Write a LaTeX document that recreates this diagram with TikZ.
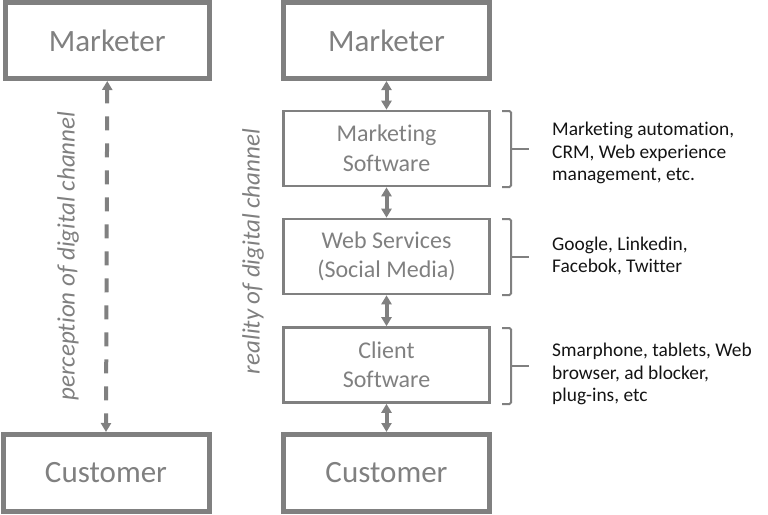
\documentclass[tikz,border=0pt]{standalone}
\usepackage{fontspec}
\setmainfont{Carlito}[Ligatures=NoCommon]
\usetikzlibrary{arrows.meta}
\definecolor{bordergray}{RGB}{128,128,128}
\definecolor{txtgray}{RGB}{128,128,128}
\definecolor{darktxt}{RGB}{20,20,20}
\begin{document}
\begin{tikzpicture}[x=1pt,y=-1pt,
  bigbox/.style={draw=bordergray, line width=5pt, inner sep=0pt, text=txtgray, font=\fontsize{31}{37}\selectfont},
  midbox/.style={draw=bordergray, line width=2.6pt, minimum width=206pt, minimum height=75pt, inner sep=0pt, text=txtgray, align=center, font=\fontsize{24}{29.5}\selectfont},
  dbl/.style={draw=bordergray, line width=4pt, {Triangle[width=10pt,length=9pt]}-{Triangle[width=10pt,length=9pt]}},
  dashedarrow/.style={draw=bordergray, line width=4pt, dash pattern=on 14pt off 13pt, {Triangle[width=10pt,length=9pt]}-{Triangle[width=10pt,length=9pt]}},
  brack/.style={draw=bordergray, line width=2pt, rounded corners=1.5pt},
  side/.style={anchor=west, text=darktxt, align=left, font=\fontsize{19.4}{22.5}\selectfont, inner sep=0pt},
  rot/.style={rotate=90, text=txtgray, font=\itshape\fontsize{25}{30}\selectfont, inner sep=0pt}]
\useasboundingbox (0,0) rectangle (768,514);
% left column
\node[bigbox, minimum width=204.5pt, minimum height=76pt] (mk1) at (107.25,40.5) {Marketer};
\node[bigbox, minimum width=206pt, minimum height=77pt] (cu1) at (106,473) {Customer};
\draw[dashedarrow] (mk1.south) -- (cu1.north);
\node[rot] (perc) at (68,256) {perception of digital channel};
% right column
\node[bigbox, minimum width=206pt, minimum height=76pt] (mk2) at (386.5,40.5) {Marketer};
\node[midbox] (ms) at (386.5,148.5) {Marketing\\Software};
\node[midbox] (ws) at (386.5,256.5) {Web Services\\(Social Media)};
\node[midbox] (cs) at (386.5,365) {Client\\Software};
\node[bigbox, minimum width=206pt, minimum height=77pt] (cu2) at (386.5,473) {Customer};
\draw[dbl] (mk2.south) -- (ms.north);
\draw[dbl] (ms.south) -- (ws.north);
\draw[dbl] (ws.south) -- (cs.north);
\draw[dbl] (cs.south) -- (cu2.north);
\node[rot] (real) at (253,251.5) {reality of digital channel};
% brackets
\draw[brack] (502,111) -- (511,111) -- (511,187) -- (502,187);
\draw[brack] (511,149) -- (529,149);
\draw[brack] (502,219) -- (511,219) -- (511,295) -- (502,295);
\draw[brack] (511,257) -- (529,257);
\draw[brack] (502,328) -- (511,328) -- (511,404) -- (502,404);
\draw[brack] (511,366) -- (529,366);
% side texts
\node[side] (t1) at (552,153) {Marketing automation,\\CRM, Web experience\\management, etc.};
\node[side] (t2) at (552,256) {Google, Linkedin,\\Facebok, Twitter};
\node[side] (t3) at (552,374) {Smarphone, tablets, Web\\browser, ad blocker,\\plug-ins, etc};
\end{tikzpicture}
\end{document}
